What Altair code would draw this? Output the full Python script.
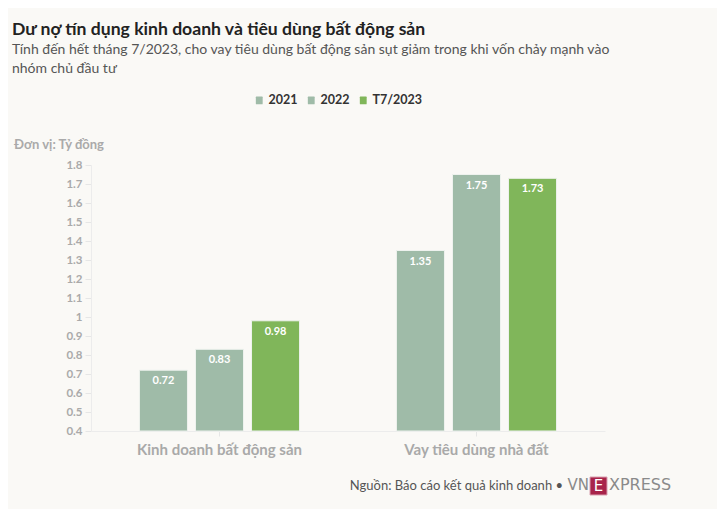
import altair as alt
import pandas as pd

categories = ["Kinh doanh bất động sản", "Vay tiêu dùng nhà đất"]
series = ["2021", "2022", "T7/2023"]
values_2021 = [0.72, 1.35]
values_2022 = [0.83, 1.75]
values_t7 = [0.98, 1.73]
colors = ["#9fbba8", "#9fbba8", "#80b65a"]
y_ticks = [0.4, 0.5, 0.6, 0.7, 0.8, 0.9, 1.0, 1.1, 1.2, 1.3, 1.4, 1.5, 1.6, 1.7, 1.8]

rows = []
for i, c in enumerate(categories):
    for s, vals in zip(series, [values_2021, values_2022, values_t7]):
        rows.append({"cat": c, "series": s, "value": vals[i]})
df = pd.DataFrame(rows)

FONT = "Lato"
W, H = 514, 266

x = alt.X("cat:N", sort=categories, title=None,
          scale=alt.Scale(paddingInner=0.377, paddingOuter=0.1885),
          axis=alt.Axis(labelAngle=0, labelFont=FONT, labelFontSize=15, labelFontWeight="bold",
                        labelColor="#a9a9a9", labelPadding=6, domainColor="#ececec",
                        tickColor="#e6e6e6", tickSize=5, labelFlush=False))
xo = alt.XOffset("series:N", sort=series,
                 scale=alt.Scale(paddingInner=0.143, paddingOuter=0))
y = alt.Y("value:Q", title=None,
          scale=alt.Scale(domain=[0.4, 1.8], zero=False, nice=False),
          axis=alt.Axis(values=y_ticks, grid=False, labelFont=FONT, labelFontSize=11.5,
                        labelFontWeight="bold", labelColor="#aaaaaa", domainColor="#ececec",
                        tickColor="#e6e6e6", tickSize=6, labelPadding=3,
                        labelExpr="datum.value == 1 ? '1' : format(datum.value, '.1f')"))

legend_sym = "M-0.5,-0.7 L0.5,-0.7 Q0.6,-0.7 0.6,-0.55 L0.6,0.55 Q0.6,0.7 0.5,0.7 L-0.5,0.7 Q-0.6,0.7 -0.6,0.55 L-0.6,-0.55 Q-0.6,-0.7 -0.5,-0.7 Z"

color = alt.Color("series:N", sort=series, title=None,
                  scale=alt.Scale(domain=series, range=colors),
                  legend=alt.Legend(orient="none", direction="horizontal", legendX=162, legendY=-71,
                                    symbolType=legend_sym, symbolSize=130, symbolStrokeWidth=0,
                                    symbolOpacity=1,
                                    labelFont=FONT, labelFontSize=12.5, labelFontWeight="bold",
                                    labelColor="#333333", columnPadding=7, labelOffset=3))

base = alt.Chart(df)
bars = base.mark_bar(stroke="#eef2ee", strokeWidth=1).encode(
    x=x, xOffset=xo, y=y, y2=alt.datum(0.4), color=color)
labels = base.mark_text(font=FONT, fontSize=11, fontWeight="bold", color="white",
                        baseline="middle", dy=11).encode(
    x=x, xOffset=xo, y=y, text=alt.Text("value:Q", format=".2f"))


def txt(text, px, py, size, weight="normal", col="#333333", align="left", font=FONT):
    return alt.Chart(alt.Data(values=[{}])).mark_text(
        text=text, font=font, fontSize=size, fontWeight=weight, color=col,
        align=align, baseline="middle").encode(x=alt.value(px), y=alt.value(py))


ox, oy = 91, 165  # page coords of plot origin
title = txt("Dư nợ tín dụng kinh doanh và tiêu dùng bất động sản", 12 - ox, 30 - oy, 17.6, "bold", "#222222")
sub1 = txt("Tính đến hết tháng 7/2023, cho vay tiêu dùng bất động sản sụt giảm trong khi vốn chảy mạnh vào",
           12 - ox, 50 - oy, 14, "normal", "#555555")
sub2 = txt("nhóm chủ đầu tư", 12 - ox, 69 - oy, 14, "normal", "#555555")
unit = txt("Đơn vị: Tỷ đồng", 14 - ox, 145 - oy, 13, "bold", "#aaaaaa")
source = txt("Nguồn: Báo cáo kết quả kinh doanh •", 563 - ox, 486 - oy, 13, "normal", "#555555", "right")
logo_box = alt.Chart(alt.Data(values=[{}])).mark_rect(color="#a8244a", stroke="#d9a0b0", strokeWidth=1).encode(
    x=alt.value(590 - ox), x2=alt.value(607 - ox), y=alt.value(477 - oy), y2=alt.value(495 - oy))
logo_vn = txt("VN", 589 - ox, 485 - oy, 15, "normal", "#8a8a8a", "right", "DejaVu Sans")
logo_e = txt("E", 598.5 - ox, 486 - oy, 15, "normal", "#ffffff", "center", "DejaVu Sans")
logo_x = txt("XPRESS", 609 - ox, 485 - oy, 16, "normal", "#8a8a8a", "left", "DejaVu Sans")

chart = alt.layer(bars, labels, title, sub1, sub2, unit, source, logo_box, logo_vn, logo_e, logo_x).properties(
    width=W, height=H,
    autosize=alt.AutoSizeParams(type="none"),
    padding={"left": ox - 8, "top": oy - 8, "right": 709 - (ox - 8) - W, "bottom": 501 - (oy - 8) - H},
    background="#faf9f6",
).configure_view(stroke=None).configure_axis(labelFont=FONT)

chart.save("out.html", embed_options={"renderer": "svg", "actions": False})
